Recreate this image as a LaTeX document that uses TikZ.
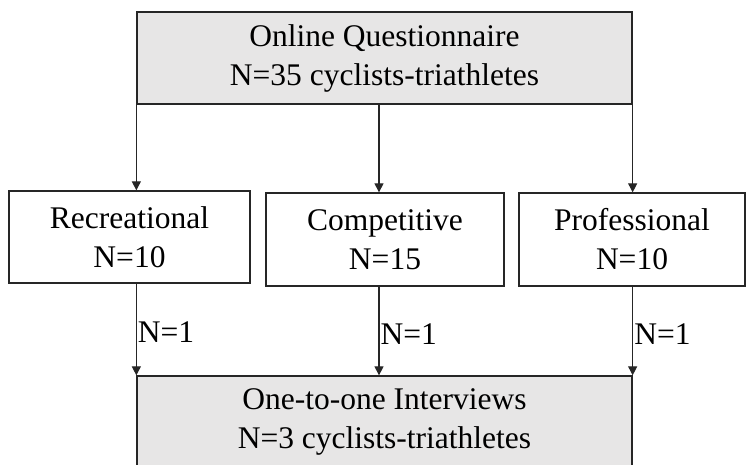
\documentclass[tikz,border=0pt]{standalone}
\usepackage{fontspec}
\setmainfont{Liberation Serif}
\usetikzlibrary{arrows.meta}
\definecolor{boxgray}{HTML}{E7E6E6}
\begin{document}
\begin{tikzpicture}[x=1pt,y=-1pt,
  box/.style={draw=black!85, line width=1.3pt, align=center, inner sep=0pt,
    font=\fontsize{31.5}{39}\selectfont},
  graybox/.style={box, fill=boxgray},
  arr/.style={draw=black!85, line width=1.2pt, -{Triangle[length=9pt,width=9pt]}},
  lbl/.style={anchor=west, inner sep=1pt, font=\fontsize{31.5}{39}\selectfont}]
\useasboundingbox (0,0) rectangle (746,465);

% survey stage
\node[graybox, minimum width=495pt, minimum height=92pt] (top) at (384.5,58)
  {Online Questionnaire\\N=35 cyclists-triathletes};

% athlete groups
\node[box, minimum width=241pt, minimum height=92pt] (rec) at (129.5,237)
  {Recreational\\N=10};
\node[box, minimum width=238pt, minimum height=93pt] (comp) at (385,239.5)
  {Competitive\\N=15};
\node[box, minimum width=226pt, minimum height=93pt] (prof) at (632,239.5)
  {Professional\\N=10};

% interview stage (runs past the lower page edge)
\node[graybox, minimum width=495pt, minimum height=92pt] (bot) at (384.5,422)
  {One-to-one Interviews\\N=3 cyclists-triathletes};

% questionnaire -> groups
\draw[arr] (top.south west) -- (top.south west |- rec.north);
\draw[arr] ([xshift=-5.5pt]top.south) -- ([xshift=-5.5pt]top.south |- comp.north);
\draw[arr] (top.south east) -- (top.south east |- prof.north);

% groups -> interviews
\draw[arr] (bot.north west |- rec.south) -- node[lbl, pos=0.53] {N=1} (bot.north west);
\draw[arr] ([xshift=-5.5pt]bot.north |- comp.south) -- node[lbl, pos=0.53] {N=1} ([xshift=-5.5pt]bot.north);
\draw[arr] (bot.north east |- prof.south) -- node[lbl, pos=0.53] {N=1} (bot.north east);
\end{tikzpicture}
\end{document}
